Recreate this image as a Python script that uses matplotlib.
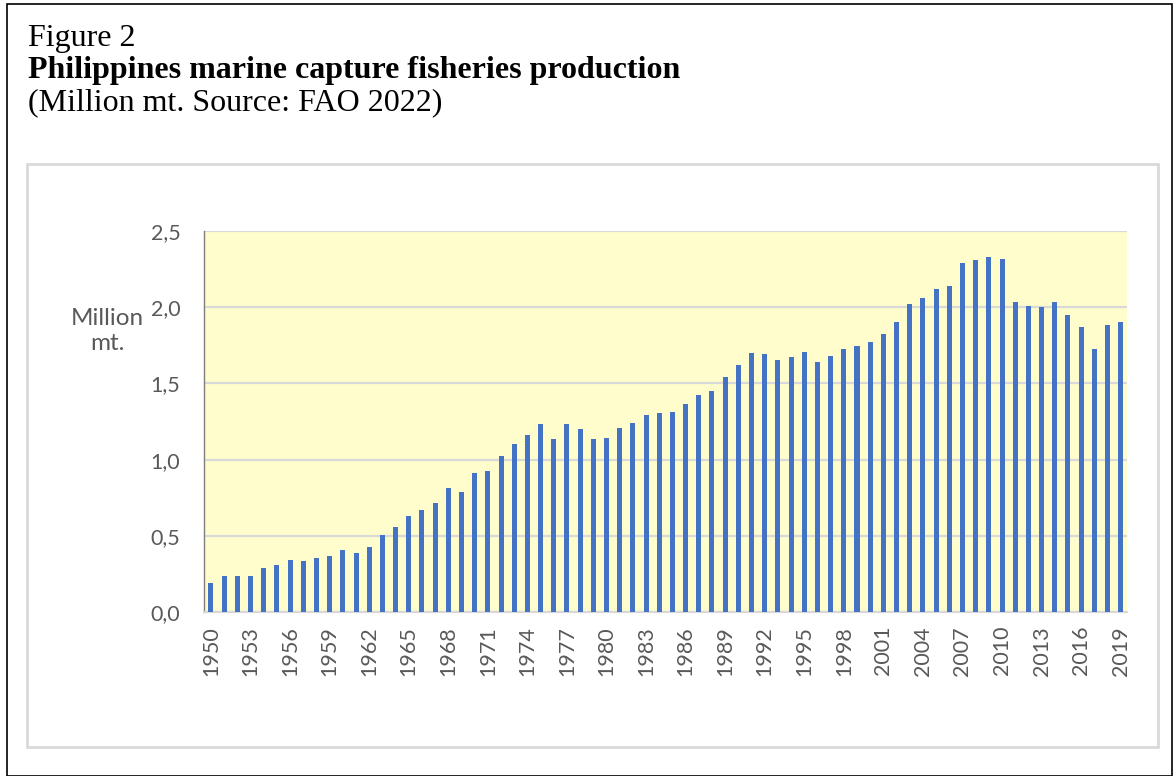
import numpy as np
import matplotlib.pyplot as plt
from matplotlib.patches import Rectangle

years = list(range(1950, 2020))
production = [
    0.19, 0.236, 0.238, 0.236, 0.29, 0.308, 0.343, 0.336, 0.354, 0.367,
    0.406, 0.384, 0.424, 0.507, 0.559, 0.631, 0.672, 0.714, 0.812, 0.786,
    0.910, 0.924, 1.022, 1.105, 1.159, 1.236, 1.133, 1.234, 1.199, 1.135,
    1.140, 1.207, 1.240, 1.293, 1.306, 1.310, 1.365, 1.426, 1.448, 1.544,
    1.618, 1.697, 1.694, 1.653, 1.672, 1.705, 1.642, 1.677, 1.723, 1.747,
    1.769, 1.823, 1.906, 2.024, 2.063, 2.118, 2.138, 2.293, 2.312, 2.328,
    2.317, 2.031, 2.011, 2.000, 2.035, 1.950, 1.867, 1.725, 1.886, 1.900,
]
y_ticks = [0.0, 0.5, 1.0, 1.5, 2.0, 2.5]

W, H = 1176, 776
fig = plt.figure(figsize=(W / 100, H / 100), dpi=100)

# outer frame of the figure box
fig.patches.append(Rectangle((7 / W, 0), (1172 - 7) / W, (H - 4) / H, transform=fig.transFigure,
                             fill=False, edgecolor='black', linewidth=1.2))
# inner chart frame
fig.patches.append(Rectangle((27 / W, (H - 747) / H), (1158 - 27) / W, (747 - 164) / H,
                             transform=fig.transFigure, fill=False, edgecolor='#D9D9D9', linewidth=2))

serif = 'Liberation Serif'
fig.text(28 / W, 1 - 46 / H, 'Figure 2', fontsize=23, family=serif, va='baseline')
fig.text(28 / W, 1 - 78 / H, 'Philippines marine capture fisheries production', fontsize=23,
         family=serif, weight='bold', va='baseline')
fig.text(28 / W, 1 - 110 / H, '(Million mt. Source: FAO 2022)', fontsize=23, family=serif, va='baseline')

ax = fig.add_axes([204 / W, (H - 612) / H, (1127 - 204) / W, (612 - 231) / H])
ax.set_facecolor('#FFFDCC')

x = np.arange(len(years))
ax.bar(x, production, width=0.38, color='#4472C4', zorder=3)

ax.set_xlim(-0.53, len(years) - 0.52)
ax.set_ylim(0, 2.5)
ax.set_yticks(y_ticks)
ax.set_yticklabels([f"{v:.1f}".replace('.', ',') for v in y_ticks])
ax.set_xticks(x[::3])
ax.set_xticklabels([str(y) for y in years[::3]], rotation=90)

tick_font = 'Lato'
for lab in ax.get_xticklabels() + ax.get_yticklabels():
    lab.set_family(tick_font)
    lab.set_fontsize(15.5)
    lab.set_color('#595959')
ax.tick_params(axis='both', length=0)
ax.tick_params(axis='y', pad=17)
ax.tick_params(axis='x', pad=10)

ax.grid(axis='y', color='#D9D9D9', linewidth=1.6, zorder=0)
for s in ['top', 'right']:
    ax.spines[s].set_visible(False)
ax.spines['left'].set_color('#7F7F7F')
ax.spines['left'].set_linewidth(1.0)
ax.spines['bottom'].set_color('#D9D9D9')
ax.spines['bottom'].set_linewidth(1.6)

fig.text(107 / W, 1 - 331 / H, 'Million\nmt.', fontsize=17.5, family=tick_font, color='#595959',
         ha='center', va='center', multialignment='center', linespacing=1.25)

fig.savefig('out.png', dpi=100)
